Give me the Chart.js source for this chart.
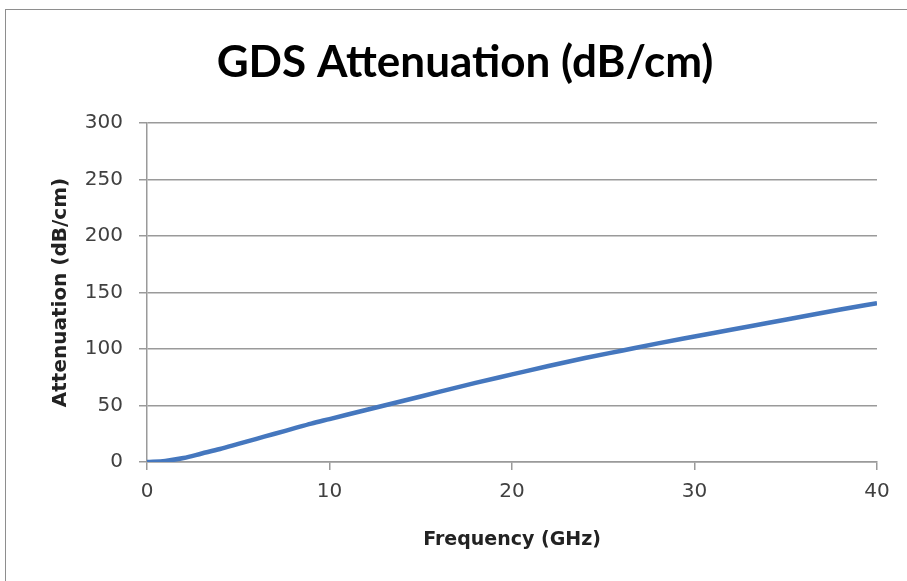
<!DOCTYPE html>
<html>
<head>
<meta charset="utf-8">
<script src="https://cdn.jsdelivr.net/npm/chart.js@4"></script>
<style>
  html, body { margin: 0; padding: 0; background: #fff; overflow: hidden; }
  #frame { position: absolute; left: 5px; top: 9px; width: 1000px; height: 700px; border: 1.5px solid #8e8e8e; }
  #wrap { position: absolute; left: 0; top: 0; width: 907px; height: 581px; }
</style>
</head>
<body>
<div id="frame"></div>
<div id="wrap"><canvas id="attChart"></canvas></div>
<script>
// frequency in GHz and attenuation in dB/cm
const freq = [0, 1, 2, 3, 4, 5, 6, 7, 8, 9, 10, 12, 14, 16, 18, 20, 22, 24, 26, 28, 30, 32, 34, 36, 38, 40];
const atten = [0, 1, 3.5, 7.5, 11.5, 16, 20.5, 25, 29.5, 34, 38, 46, 54, 62, 70, 77.5, 85, 92, 98.5, 105, 111, 117, 123, 129, 135, 140.5];
const yTicks = [0, 50, 100, 150, 200, 250, 300];
const xTicks = [0, 10, 20, 30, 40];
const chartTitle = 'GDS Attenuation (dB/cm)';

const points = freq.map((f, i) => ({ x: f, y: atten[i] }));

// title sits a bit right of the canvas centre, like the original
const titlePlugin = {
    id: 'offsetTitle',
    afterDraw(chart) {
        const c = chart.ctx;
        c.save();
        c.font = 'bold 44px Lato';
        c.fillStyle = '#000';
        c.textAlign = 'center';
        c.textBaseline = 'alphabetic';
        c.fillText(chartTitle, 465, 77);
        c.restore();
    }
};

let ctx = document.getElementById('attChart').getContext('2d');
const chart = new Chart(ctx, {
    type: 'line',
    data: {
        datasets: [{
            label: 'Attenuation',
            data: points,
            borderColor: '#4577be',
            backgroundColor: '#4577be',
            borderWidth: 4.5,
            pointRadius: 0,
            cubicInterpolationMode: 'monotone',
            fill: false
        }]
    },
    options: {
        responsive: true,
        maintainAspectRatio: false,
        animation: false,
        layout: { padding: { left: 0, right: 30, top: 123, bottom: 0 } },
        plugins: {
            legend: { display: false },
            tooltip: { enabled: false },
            title: { display: false }
        },
        scales: {
            x: {
                type: 'linear',
                min: 0,
                max: 40,
                afterBuildTicks: (s) => { s.ticks = xTicks.map(v => ({ value: v })); },
                afterFit: (s) => { s.height = 119; },
                grid: { drawOnChartArea: false, drawTicks: true, tickLength: 8, color: '#9a9a9a', lineWidth: 1.5 },
                border: { color: '#9a9a9a', width: 1.5 },
                ticks: { color: '#404040', padding: 10, maxRotation: 0, font: { family: 'DejaVu Sans', size: 20 } },
                title: {
                    display: true,
                    text: 'Frequency (GHz)',
                    color: '#222',
                    font: { family: 'DejaVu Sans', size: 19, weight: 'bold', lineHeight: 1.2 },
                    padding: { top: 0, bottom: 30 }
                }
            },
            y: {
                min: 0,
                max: 300,
                afterBuildTicks: (s) => { s.ticks = yTicks.map(v => ({ value: v })); },
                afterFit: (s) => { s.width = 147; },
                grid: { drawTicks: true, tickLength: 8, color: '#9a9a9a', lineWidth: 1.5 },
                border: { color: '#9a9a9a', width: 1.5 },
                ticks: { color: '#404040', padding: 16, font: { family: 'DejaVu Sans', size: 20 } },
                title: {
                    display: true,
                    text: 'Attenuation (dB/cm)',
                    color: '#222',
                    font: { family: 'DejaVu Sans', size: 20, weight: 'bold', lineHeight: 1.2 },
                    padding: { top: 49, bottom: 0 }
                }
            }
        }
    },
    plugins: [titlePlugin]
});
</script>
</body>
</html>
